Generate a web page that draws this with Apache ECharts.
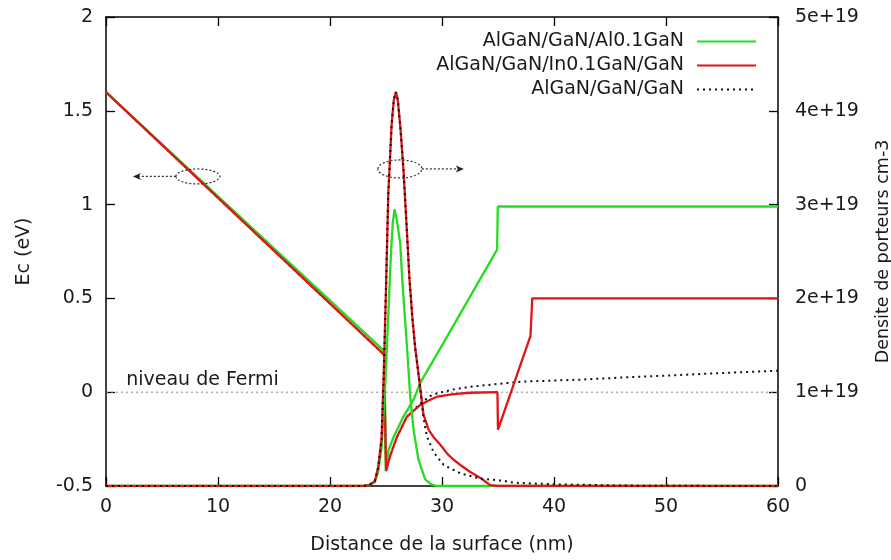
<!DOCTYPE html>
<html><head><meta charset="utf-8">
<script src="https://cdn.jsdelivr.net/npm/echarts@6/dist/echarts.min.js"></script>
<style>html,body{margin:0;padding:0;background:#fff}#c{width:891px;height:560px}</style>
</head><body><div id="c"></div>
<script>
// ---- data ----
const seriesNames = ['AlGaN/GaN/Al0.1GaN', 'AlGaN/GaN/In0.1GaN/GaN', 'AlGaN/GaN/GaN'];
const xTicks = [0, 10, 20, 30, 40, 50, 60];
const ecTicks = [-0.5, 0, 0.5, 1, 1.5, 2];
const densTicks = [0, 1e19, 2e19, 3e19, 4e19, 5e19];

// conduction band (eV), left axis
const ecAl = [[0,1.6],[24.83,0.22],[25.0,-0.42],[25.22,-0.31],[25.67,-0.24],[26.56,-0.13],[27.46,-0.04],[28.06,0.05],[30.3,0.28],[34.92,0.76],[34.98,0.99],[60,0.99]];
const ecIn = [[0,1.6],[24.83,0.2],[25.0,-0.42],[25.37,-0.34],[25.97,-0.24],[26.87,-0.13],[28.06,-0.068],[28.95,-0.04],[29.55,-0.024],[31.04,-0.01],[32.5,-0.003],[34.95,0],[35.0,-0.2],[37.9,0.3],[38.06,0.5],[60,0.5]];
const ecGaN = [[0,1.6],[24.83,0.2],[25.0,-0.42],[25.37,-0.34],[25.97,-0.24],[26.87,-0.13],[28.06,-0.06],[28.95,-0.02],[29.55,-0.006],[31.04,0.015],[32.53,0.029],[34,0.038],[37,0.056],[42.4,0.067],[46,0.078],[51.3,0.092],[55,0.102],[60,0.115]];

// carrier density (cm-3), right axis
const dAl = [[0,0],[23,0],[23.5,0.01e19],[24,0.04e19],[24.3,0.15e19],[24.6,0.4e19],[24.9,1.0e19],[25.2,1.8e19],[25.45,2.5e19],[25.6,2.8e19],[25.76,2.95e19],[25.95,2.85e19],[26.27,2.59e19],[26.45,2.2e19],[26.87,1.49e19],[27.16,0.96e19],[27.46,0.6e19],[27.9,0.28e19],[28.5,0.07e19],[29.0,0.02e19],[29.5,0],[60,0]];
const dIn = [[0,0],[23,0],[23.5,0.01e19],[24.0,0.05e19],[24.3,0.2e19],[24.6,0.5e19],[24.8,1.2e19],[25.0,2.1e19],[25.2,3.1e19],[25.5,3.85e19],[25.7,4.12e19],[25.88,4.2e19],[26.05,4.12e19],[26.3,3.8e19],[26.56,3.37e19],[26.85,2.75e19],[27.1,2.2e19],[27.35,1.8e19],[27.6,1.48e19],[28.0,1.1e19],[28.35,0.76e19],[28.8,0.6e19],[29.25,0.52e19],[29.85,0.44e19],[30.5,0.34e19],[31.04,0.28e19],[31.8,0.21e19],[32.53,0.15e19],[33.5,0.08e19],[34.3,0.01e19],[35,0],[60,0]];
const dGaN = [[0,0],[23,0],[23.5,0.01e19],[24.0,0.05e19],[24.3,0.2e19],[24.6,0.5e19],[24.8,1.2e19],[25.0,2.1e19],[25.2,3.1e19],[25.5,3.85e19],[25.7,4.12e19],[25.88,4.2e19],[26.05,4.12e19],[26.3,3.8e19],[26.56,3.37e19],[26.85,2.75e19],[27.1,2.2e19],[27.35,1.8e19],[27.6,1.48e19],[28.0,1.1e19],[28.35,0.72e19],[28.65,0.53e19],[29.25,0.36e19],[30.15,0.224e19],[31.64,0.135e19],[33.43,0.078e19],[35.5,0.055e19],[36.4,0.035e19],[40,0.018e19],[46,0.005e19],[50,0.002e19],[60,0]];

const fermiLevel = [[0,0],[60,0]];

// ---- style ----
const FONT = 'DejaVu Sans';
const GREEN = '#22dd22', RED = '#e01515', BLACK = '#111';
const txt = {fontFamily: FONT, fontSize: 19, color: '#1a1a1a'};

const chart = echarts.init(document.getElementById('c'), null, {renderer: 'canvas'});

function lineSeries(name, data, color, yIdx, dotted, z) {
  return {
    name: name, type: 'line', data: data, yAxisIndex: yIdx, xAxisIndex: 0,
    symbol: 'none', smooth: false, z: z, animation: false,
    lineStyle: dotted ? {color: BLACK, width: 2, type: [2, 4]} : {color: color, width: 2.3},
    itemStyle: {color: dotted ? BLACK : color}
  };
}

const axisLine = {show: true, onZero: false, lineStyle: {color: '#000', width: 1.5}};
const tick = {show: true, inside: true, length: 9, lineStyle: {color: '#000', width: 1.3}};

chart.setOption({
  animation: false,
  backgroundColor: '#fff',
  textStyle: {fontFamily: FONT},
  grid: {left: 106, right: 113, top: 17, bottom: 74, containLabel: false, outerBoundsMode: 'none'},
  legend: {
    data: seriesNames,
    orient: 'vertical', align: 'right',
    right: 129, top: 27,
    itemWidth: 59, itemHeight: 14, itemGap: 5,
    itemStyle: {opacity: 0, borderWidth: 0},
    textStyle: Object.assign({}, txt, {padding: [0, 8, 0, 0]}),
    selectedMode: false
  },
  xAxis: [{
    type: 'value', min: 0, max: 60, interval: 10, position: 'bottom',
    axisLine: axisLine, axisTick: tick, splitLine: {show: false},
    axisLabel: Object.assign({margin: 12, formatter: v => xTicks.indexOf(v) >= 0 ? String(v) : ''}, txt),
    name: 'Distance de la surface (nm)', nameLocation: 'middle', nameGap: 50,
    nameTextStyle: txt
  }, {
    type: 'value', min: 0, max: 60, interval: 10, position: 'top',
    axisLine: axisLine, axisTick: tick, splitLine: {show: false},
    axisLabel: {show: false}
  }],
  yAxis: [{
    type: 'value', min: -0.5, max: 2, interval: 0.5, position: 'left',
    axisLine: axisLine, axisTick: tick, splitLine: {show: false},
    axisLabel: Object.assign({margin: 13, formatter: v => ecTicks.indexOf(v) >= 0 ? String(v) : ''}, txt),
    name: 'Ec (eV)', nameLocation: 'middle', nameGap: 72, nameRotate: 90,
    nameTextStyle: txt
  }, {
    type: 'value', min: 0, max: 5e19, interval: 1e19, position: 'right',
    axisLine: axisLine, axisTick: tick, splitLine: {show: false},
    axisLabel: Object.assign({margin: 17, formatter: v => v === 0 ? '0' : (Math.round(v / 1e19) + 'e+19')}, txt),
    name: 'Densite de porteurs cm-3', nameLocation: 'middle', nameGap: 96, nameRotate: 90,
    nameTextStyle: Object.assign({}, txt, {fontSize: 17.5})
  }],
  series: [
    {name: 'fermi', type: 'line', data: fermiLevel, yAxisIndex: 0, symbol: 'none', z: 1,
     lineStyle: {color: '#888', width: 1, type: [2, 3]}, silent: true},
    lineSeries(seriesNames[2], ecGaN, BLACK, 0, true, 2),
    lineSeries(seriesNames[0], ecAl, GREEN, 0, false, 3),
    lineSeries(seriesNames[1], ecIn, RED, 0, false, 4),
    lineSeries(seriesNames[0], dAl, GREEN, 1, false, 5),
    lineSeries(seriesNames[1], dIn, RED, 1, false, 6),
    lineSeries(seriesNames[2], dGaN, BLACK, 1, true, 7)
  ]
});

// ---- annotations (positioned from data coordinates) ----
function px(x, y) { return chart.convertToPixel({xAxisIndex: 0, yAxisIndex: 0}, [x, y]); }
const annLeft = {cx: 8.2, cy: 1.15, tipX: 2.4};
const annRight = {cx: 26.24, cy: 1.19, tipX: 31.95};
const fermiText = {x: 1.8, y: 0.065, text: 'niveau de Fermi'};

function annotation(a, dir, rx, ry) {
  const c = px(a.cx, a.cy);
  const tip = px(a.tipX, a.cy);
  const startX = c[0] + dir * rx;
  const dash = {stroke: '#333', lineWidth: 1.2, lineDash: [2, 2], fill: null};
  return [
    {type: 'ellipse', shape: {cx: c[0], cy: c[1], rx: rx, ry: ry}, style: dash, z: 100},
    {type: 'line', shape: {x1: startX, y1: c[1], x2: tip[0] - dir * 4, y2: c[1]}, style: dash, z: 100},
    {type: 'polygon', shape: {points: [[tip[0], c[1]], [tip[0] - dir * 8, c[1] - 3.5], [tip[0] - dir * 6, c[1]], [tip[0] - dir * 8, c[1] + 3.5]]},
     style: {fill: '#222', stroke: null}, z: 100}
  ];
}
const fp = px(fermiText.x, fermiText.y);
chart.setOption({
  graphic: [].concat(
    annotation(annLeft, -1, 22, 7.5),
    annotation(annRight, 1, 22, 9),
    [{type: 'text', x: fp[0], y: fp[1], style: {text: fermiText.text, font: '19px "DejaVu Sans"', fill: '#1a1a1a', textVerticalAlign: 'middle'}, z: 100}]
  )
});
</script>
</body></html>
